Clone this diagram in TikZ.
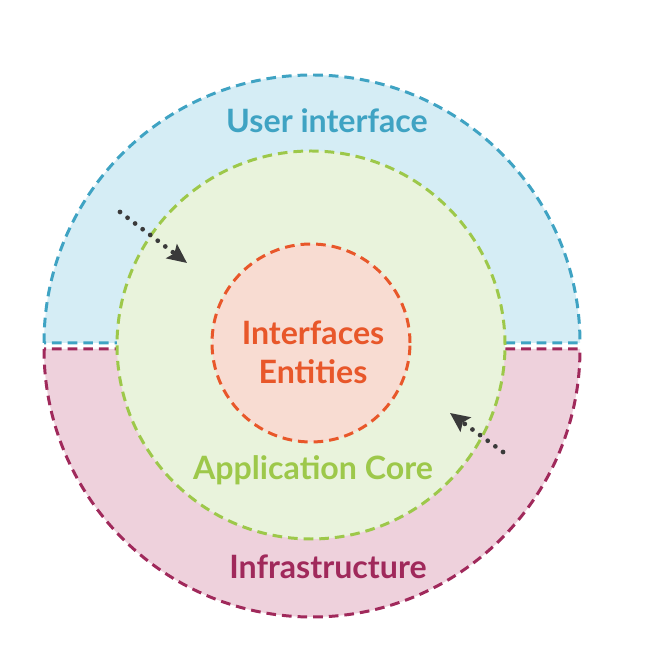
\documentclass[tikz,border=0pt]{standalone}
\usepackage{fontspec}
\setmainfont{Lato}
\usetikzlibrary{arrows.meta}
\definecolor{uiFill}{HTML}{D5EDF5}
\definecolor{uiLine}{HTML}{3FA3C3}
\definecolor{infFill}{HTML}{EED1DC}
\definecolor{infLine}{HTML}{A0295B}
\definecolor{appFill}{HTML}{E9F3DC}
\definecolor{appLine}{HTML}{9DC84A}
\definecolor{coreFill}{HTML}{F8DCD2}
\definecolor{coreLine}{HTML}{E8572A}
\definecolor{arrowGray}{HTML}{3A3A3A}
\tikzset{
  ring/.style={line width=1.7pt, dash pattern=on 5.5pt off 3.4pt},
  lbl/.style={font=\fontsize{18.3}{22}\selectfont\bfseries, align=center},
  dotarrow/.style={arrowGray, line width=2.7pt, line cap=round, dash pattern=on 0pt off 5.4pt, -{Stealth[length=11pt,width=10pt,inset=2pt]}}
}
\begin{document}
\begin{tikzpicture}[x=0.02cm,y=0.02cm]
\useasboundingbox (0,0) rectangle (665,648);
% lower half (Infrastructure)
\filldraw[ring, draw=infLine, fill=infFill] (44,299) arc[start angle=180, end angle=360, radius=268] -- cycle;
% upper half (User interface)
\filldraw[ring, draw=uiLine, fill=uiFill] (44,305) arc[start angle=180, end angle=0, radius=268] -- cycle;
% application core
\filldraw[ring, draw=appLine, fill=appFill] (311,303) circle[radius=194];
% inner core
\filldraw[ring, draw=coreLine, fill=coreFill] (311,305) circle[radius=99];
% labels
\node[lbl, text=uiLine] (ui) at (327,527) {User interface};
\node[lbl, text=coreLine] (core) at (313,296) {Interfaces\\Entities};
\node[lbl, text=appLine] (app) at (313,178) {Application Core};
\node[lbl, text=infLine] (inf) at (328,81) {Infrastructure};
% arrows
\coordinate (a1s) at (120,436);
\coordinate (a1e) at (187,385);
\coordinate (a2s) at (503,196);
\coordinate (a2e) at (450,235);
\draw[dotarrow] (a1s) -- (a1e);
\draw[dotarrow] (a2s) -- (a2e);
\end{tikzpicture}
\end{document}
